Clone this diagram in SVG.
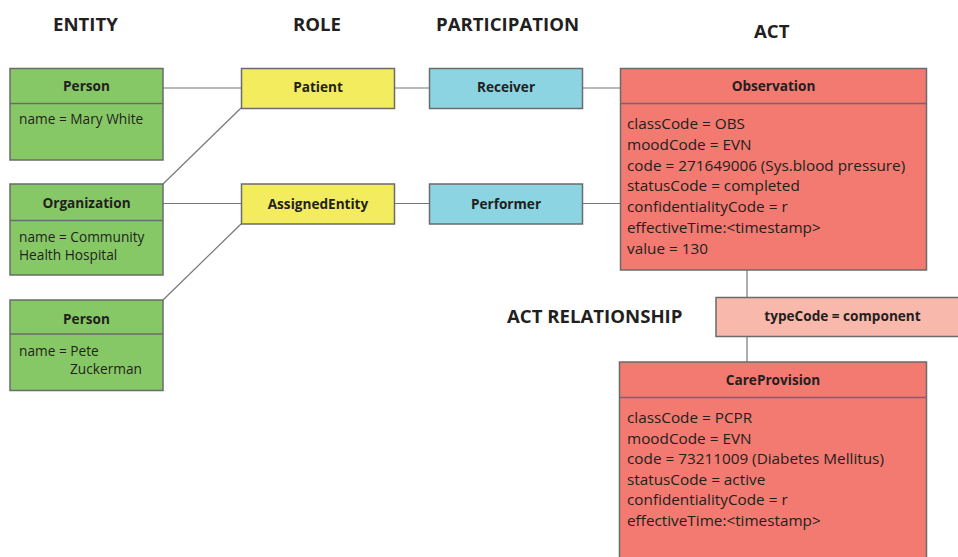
<svg xmlns="http://www.w3.org/2000/svg" width="958" height="557" viewBox="0 0 958 557">
<style>
.box{stroke:#6b6b6b;stroke-width:1.5}
.div{stroke:#6b6b6b;stroke-width:1.5}
.ent{fill:#87c866}
.role{fill:#f3ec5e}
.part{fill:#8cd4e2}
.act{fill:#f27a70}
.rel{fill:#f8b8ac}
.hd{font-family:"Open Sans","Liberation Sans",sans-serif;font-weight:bold;font-size:18.6px;fill:#231f20}
.t{font-family:"Open Sans","Liberation Sans",sans-serif;font-weight:bold;font-size:13.6px;fill:#231f20;text-anchor:middle}
.b{font-family:"Open Sans","Liberation Sans",sans-serif;font-size:13.7px;fill:#231f20}
.ba{font-family:"Open Sans","Liberation Sans",sans-serif;font-size:15.3px;fill:#231f20}
.c{stroke:#777;stroke-width:1.2;fill:none}
</style>
<rect width="958" height="557" fill="#fff"/>
<text class="hd" x="53" y="31">ENTITY</text>
<text class="hd" x="293" y="31">ROLE</text>
<text class="hd" x="436" y="31">PARTICIPATION</text>
<text class="hd" x="754" y="38">ACT</text>
<text class="hd" x="507" y="323">ACT RELATIONSHIP</text>
<g id="connectors">
<line class="c" x1="163" y1="88" x2="241" y2="88"/>
<line class="c" x1="163" y1="184" x2="241" y2="108"/>
<line class="c" x1="163" y1="203.5" x2="241" y2="203.5"/>
<line class="c" x1="163" y1="300" x2="241" y2="224"/>
<line class="c" x1="395" y1="88" x2="429" y2="88"/>
<line class="c" x1="395" y1="203.5" x2="429" y2="203.5"/>
<line class="c" x1="583" y1="88" x2="620" y2="88"/>
<line class="c" x1="583" y1="203.5" x2="620" y2="203.5"/>
<line class="c" x1="747" y1="270" x2="747" y2="297"/>
<line class="c" x1="747" y1="337" x2="747" y2="362"/>
</g>
<g id="person1">
<rect class="box ent" x="10" y="68.5" width="153" height="91.5"/>
<line class="div" x1="10" y1="103.5" x2="163" y2="103.5"/>
<text class="t" x="86.5" y="91">Person</text>
<text class="b" x="19" y="124">name = Mary White</text>
</g>
<g id="organization">
<rect class="box ent" x="10" y="184" width="153" height="91"/>
<line class="div" x1="10" y1="220.5" x2="163" y2="220.5"/>
<text class="t" x="86.5" y="208">Organization</text>
<text class="b" x="19" y="242">name = Community</text>
<text class="b" x="19" y="259.5">Health Hospital</text>
</g>
<g id="person2">
<rect class="box ent" x="10" y="300" width="153" height="90.5"/>
<line class="div" x1="10" y1="334" x2="163" y2="334"/>
<text class="t" x="86.5" y="323.5">Person</text>
<text class="b" x="19" y="356">name = Pete</text>
<text class="b" x="70" y="374">Zuckerman</text>
</g>
<g id="patient">
<rect class="box role" x="241.5" y="68.5" width="153" height="40"/>
<text class="t" x="318" y="92">Patient</text>
</g>
<g id="assignedEntity">
<rect class="box role" x="241.5" y="184" width="153" height="40"/>
<text class="t" x="318" y="208.5">AssignedEntity</text>
</g>
<g id="receiver">
<rect class="box part" x="429.5" y="68.5" width="153" height="40"/>
<text class="t" x="506" y="92">Receiver</text>
</g>
<g id="performer">
<rect class="box part" x="429.5" y="184" width="153" height="40"/>
<text class="t" x="506" y="208.5">Performer</text>
</g>
<g id="observation">
<rect class="box act" x="620.5" y="68.5" width="306" height="201.5"/>
<line class="div" x1="620.5" y1="103.5" x2="926.5" y2="103.5"/>
<text class="t" x="773.5" y="91">Observation</text>
<text class="ba" x="627" y="129">classCode = OBS</text>
<text class="ba" x="627" y="149.8">moodCode = EVN</text>
<text class="ba" x="627" y="170.6">code = 271649006 (Sys.blood pressure)</text>
<text class="ba" x="627" y="191.4">statusCode = completed</text>
<text class="ba" x="627" y="212.2">confidentialityCode = r</text>
<text class="ba" x="627" y="233">effectiveTime:&lt;timestamp&gt;</text>
<text class="ba" x="627" y="253.8">value = 130</text>
</g>
<g id="typeCode">
<rect class="box rel" x="716" y="297.5" width="250" height="39"/>
<text class="t" x="842.5" y="321">typeCode = component</text>
</g>
<g id="careProvision">
<rect class="box act" x="619.5" y="362" width="307" height="210"/>
<line class="div" x1="619.5" y1="397.5" x2="926.5" y2="397.5"/>
<text class="t" x="773" y="385">CareProvision</text>
<text class="ba" x="627" y="423">classCode = PCPR</text>
<text class="ba" x="627" y="443.6">moodCode = EVN</text>
<text class="ba" x="627" y="464.2">code = 73211009 (Diabetes Mellitus)</text>
<text class="ba" x="627" y="484.8">statusCode = active</text>
<text class="ba" x="627" y="505.4">confidentialityCode = r</text>
<text class="ba" x="627" y="526">effectiveTime:&lt;timestamp&gt;</text>
</g>
</svg>
